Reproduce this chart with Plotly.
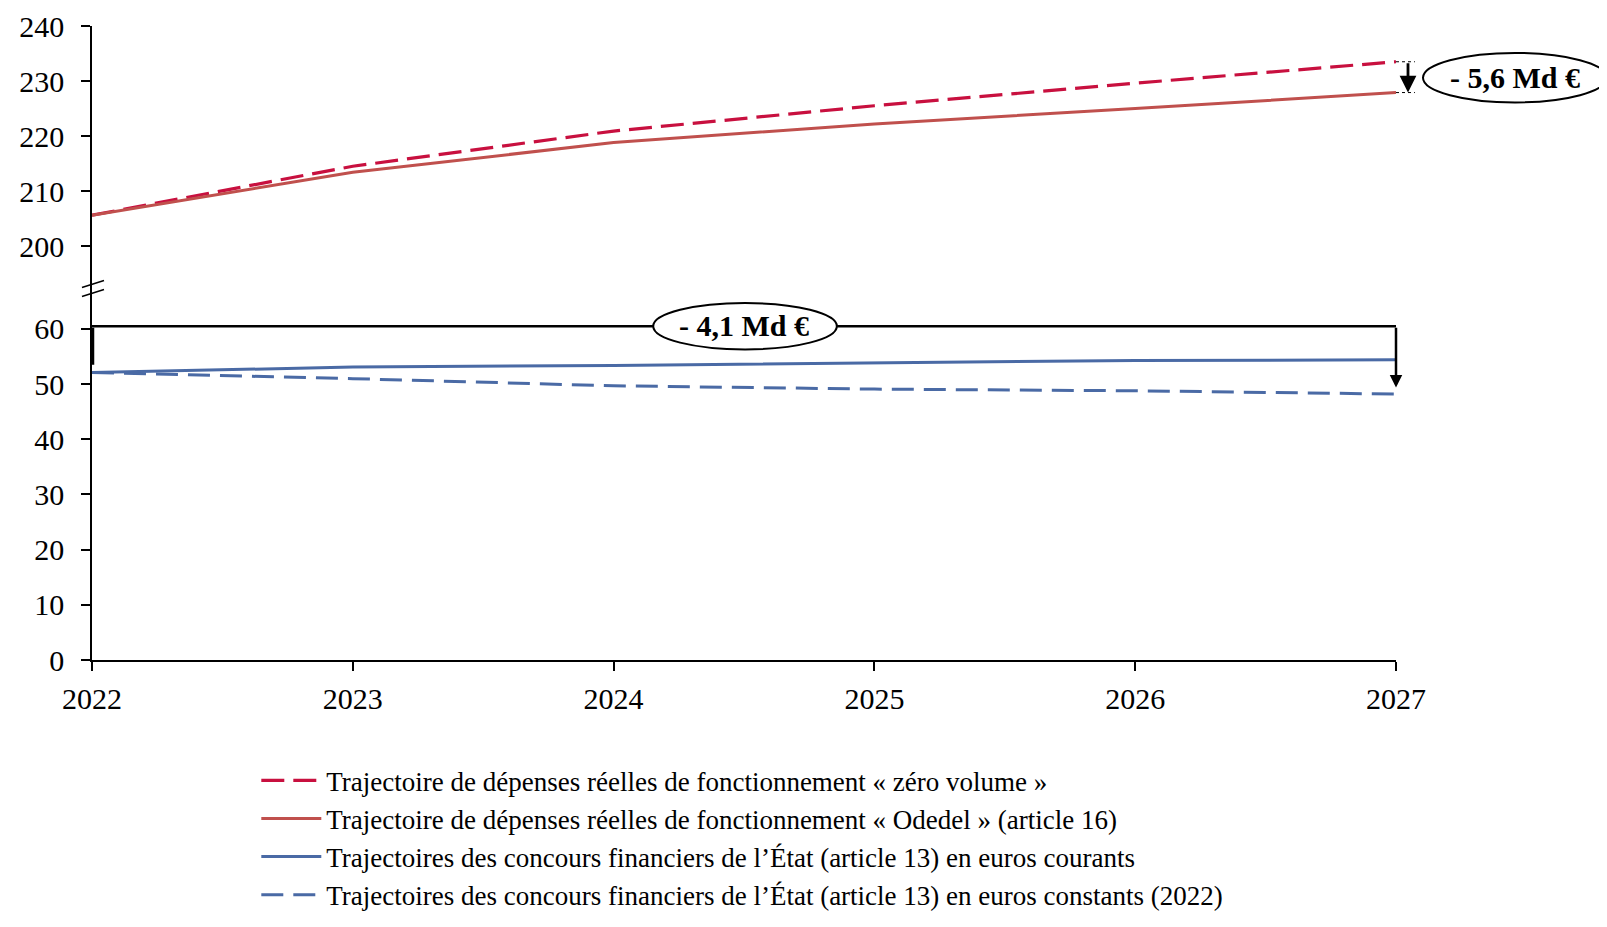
import plotly.graph_objects as go

# ---- data ----
years = [2022, 2023, 2024, 2025, 2026, 2027]
zero_volume = [205.6, 214.5, 220.9, 225.5, 229.6, 233.5]
odedel = [205.6, 213.4, 218.8, 222.2, 225.0, 227.9]
concours_courants = [52.1, 53.1, 53.4, 53.9, 54.3, 54.4]
concours_constants = [52.1, 51.0, 49.7, 49.1, 48.8, 48.2]

series_names = [
    "Trajectoire de dépenses réelles de fonctionnement « zéro volume »",
    "Trajectoire de dépenses réelles de fonctionnement « Odedel » (article 16)",
    "Trajectoires des concours financiers de l’État (article 13) en euros courants",
    "Trajectoires des concours financiers de l’État (article 13) en euros constants (2022)",
]
top_ticks = [200, 210, 220, 230, 240]
bottom_ticks = [0, 10, 20, 30, 40, 50, 60]
gap_top_label = "- 5,6 Md €"
gap_bottom_label = "- 4,1 Md €"

# ---- styles ----
RED_DASH = "#C8103F"
RED = "#C0504D"
BLUE = "#4A6AA5"
FONT = "Liberation Serif"

# page body has an 8px margin: figure is shrunk/shifted to compensate
W, H = 1599, 919
ML, MR, MT, MB = 84, 211, 18, 267
PH = H - MT - MB
split = 0.5844
top_scale = 5.5
bot_scale = 5.517
top_range = [240 - (1 - split) * PH / top_scale, 240]
bot_range = [0, split * PH / bot_scale]

fig = go.Figure()
fig.add_trace(go.Scatter(x=years, y=zero_volume, name=series_names[0], mode="lines",
                         line=dict(color=RED_DASH, width=3.2, dash="23px,9px"),
                         xaxis="x2", yaxis="y2", legendgroup="a"))
fig.add_trace(go.Scatter(x=years, y=odedel, name=series_names[1], mode="lines",
                         line=dict(color=RED, width=3), xaxis="x2", yaxis="y2", legendgroup="b"))
fig.add_trace(go.Scatter(x=years, y=concours_courants, name=series_names[2], mode="lines",
                         line=dict(color=BLUE, width=3), xaxis="x", yaxis="y", legendgroup="c"))
fig.add_trace(go.Scatter(x=years, y=concours_constants, name=series_names[3], mode="lines",
                         line=dict(color=BLUE, width=3, dash="22px,10px"), xaxis="x", yaxis="y",
                         legendgroup="d"))

axis_common = dict(showgrid=False, zeroline=False, showline=True, linecolor="black", linewidth=1.5,
                   ticks="outside", ticklen=9, tickwidth=1.5, tickcolor="black", automargin=False,
                   tickfont=dict(family=FONT, size=30, color="black"))

fig.update_layout(
    width=W, height=H,
    margin=dict(l=ML, r=MR, t=MT, b=MB, autoexpand=False),
    paper_bgcolor="white", plot_bgcolor="white",
    font=dict(family=FONT, color="black"),
    xaxis=dict(range=[years[0], years[-1]], tickvals=years, anchor="y",
               ticklabelstandoff=2, **axis_common),
    xaxis2=dict(range=[years[0], years[-1]], matches="x", anchor="y2", visible=False),
    yaxis=dict(range=bot_range, tickvals=bottom_ticks, domain=[0, split], anchor="x",
               ticklabelstandoff=11, **axis_common),
    yaxis2=dict(range=top_range, tickvals=top_ticks, domain=[split, 1], anchor="x2",
                ticklabelstandoff=11, **axis_common),
    showlegend=True,
    legend=dict(x=0.126, y=-0.152, xanchor="left", yanchor="top", traceorder="normal",
                font=dict(family=FONT, size=27, color="black"), tracegroupgap=6,
                bgcolor="rgba(0,0,0,0)", itemwidth=60),
)

# ---- broken axis marks ----
for dy in (0.0, -0.0142):
    fig.add_shape(type="line", xref="paper", yref="paper",
                  x0=-0.0077, y0=0.5876 + dy, x1=0.0092, y1=0.5986 + dy,
                  line=dict(color="black", width=1.5))

# ---- top gap annotation (- 5,6 Md €) ----
for v in (zero_volume[-1], odedel[-1]):
    fig.add_shape(type="line", xref="paper", yref="y2", x0=1.0, x1=1.0145, y0=v, y1=v,
                  line=dict(color="black", width=1, dash="dot"))
fig.add_annotation(x=years[-1], y=odedel[-1], ax=years[-1], ay=zero_volume[-1],
                   xref="x2", yref="y2", axref="x2", ayref="y2", xshift=12,
                   text="", showarrow=True, arrowhead=2, arrowsize=1.2, arrowwidth=2.8,
                   arrowcolor="black")
fig.add_shape(type="circle", xref="paper", yref="y2", x0=1.0207, x1=1.1618,
              y0=226.1, y1=235.1, line=dict(color="black", width=2), fillcolor="white")
fig.add_annotation(x=1.0913, y=230.65, xref="paper", yref="y2", xanchor="center",
                   yanchor="middle", text="<b>%s</b>" % gap_top_label,
                   showarrow=False, font=dict(family=FONT, size=30, color="black"))

# ---- bottom gap annotation (- 4,1 Md €) ----
bracket_level = 60.5
fig.add_shape(type="line", xref="x", yref="y", x0=years[0], x1=years[-1],
              y0=bracket_level, y1=bracket_level, line=dict(color="black", width=2.5))
fig.add_annotation(x=years[0], y=53.5, ax=years[0], ay=bracket_level, xref="x", yref="y",
                   axref="x", ayref="y", text="", showarrow=True, arrowhead=0, arrowwidth=2.5,
                   arrowcolor="black", xshift=1)
fig.add_annotation(x=years[-1], y=49.4, ax=years[-1], ay=bracket_level, xref="x", yref="y",
                   axref="x", ayref="y", text="", showarrow=True, arrowhead=2, arrowsize=1,
                   arrowwidth=2.5, arrowcolor="black")
fig.add_shape(type="circle", xref="x", yref="y", x0=2024.152, x1=2024.856, y0=56.3, y1=64.7,
              line=dict(color="black", width=2), fillcolor="white")
fig.add_annotation(x=2024.5, y=60.6, xref="x", yref="y", xanchor="center",
                   text="<b>%s</b>" % gap_bottom_label,
                   showarrow=False, font=dict(family=FONT, size=30, color="black"))

fig.write_html("out.html")
